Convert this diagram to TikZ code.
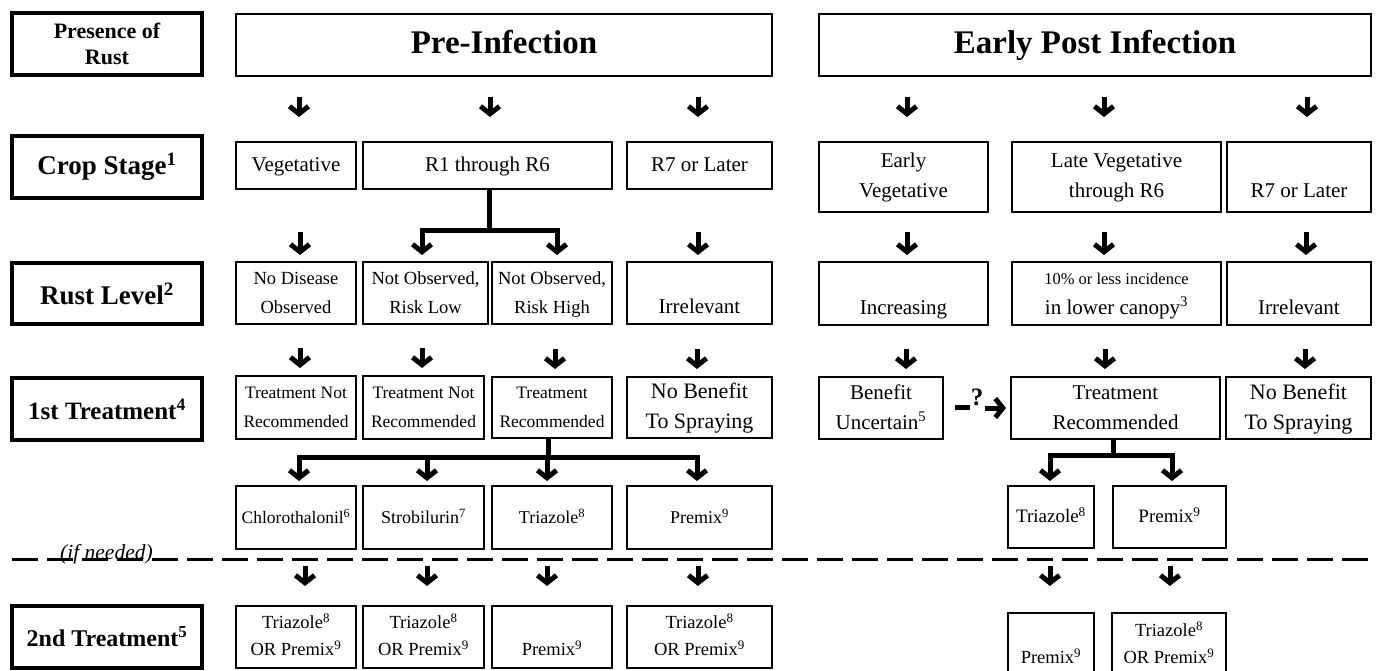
\documentclass[tikz,border=0pt]{standalone}
\usepackage{fontspec}
\setmainfont{Liberation Serif}
\usetikzlibrary{arrows.meta,calc}
\newcommand\fs[2]{\fontsize{#1}{#2}\selectfont}
\newcommand\ssp[1]{\textsuperscript{#1}}
\newcommand\B[7]{\node[#6, minimum width={#4pt-#2pt}, minimum height={#5pt-#3pt}] (#1) at ({(#2+#4)/2},{(#3+#5)/2}) {#7};}
\newcommand\arrto[4]{\draw[arr] ($(#1.north)+(#2,-#3)$) -- ($(#1.north)+(#2,-#4)$);}
\begin{document}
\begin{tikzpicture}[x=1pt,y=-1pt,
 lbl/.style={draw, line width=4.5pt, align=center, inner sep=0pt},
 hdr/.style={draw, line width=2.5pt, font=\bfseries\fs{33}{38}, inner sep=0pt, text height=23pt, text depth=5pt},
 bx/.style={draw, line width=2pt, align=center, inner sep=0pt},
 tip/.tip={Straight Barb[length=7.5pt,width=19pt]},
 arr/.style={line width=5pt, -tip},
 arr2/.style={line width=5pt, tip-tip},
 br/.style={line width=5pt},
]
\useasboundingbox[fill=white] (0,0) rectangle (1377,671);
% label column
\B{pres}{12}{13}{202}{75}{lbl,font=\bfseries\fs{22}{26}}{Presence of\\Rust}
\B{crop}{12}{136}{202}{198}{lbl,font=\bfseries\fs{27}{30}}{Crop Stage\ssp{1}}
\B{rustl}{12}{263}{202}{324}{lbl,font=\bfseries\fs{27}{30}}{Rust Level\ssp{2}}
\B{first}{12}{378}{202}{440}{lbl,font=\bfseries\fs{25}{30}}{1st Treatment\ssp{4}}
\B{second}{12}{606}{202}{668}{lbl,font=\bfseries\fs{24}{30}}{2nd Treatment\ssp{5}}
% headers
\B{pre}{236}{14}{772}{76}{hdr}{Pre-Infection}
\B{post}{819}{14}{1371}{76}{hdr}{Early Post Infection}
% row 1 crop stage
\B{veg}{236}{142}{356}{189}{bx,font=\fs{21}{29}}{\strut Vegetative}
\B{r16}{363}{142}{612}{189}{bx,font=\fs{21}{29}}{\strut R1 through R6}
\B{r7a}{627}{142}{772}{189}{bx,font=\fs{21}{29}}{\strut R7 or Later}
\B{eveg}{819}{142}{988}{212}{bx,font=\fs{21}{30}}{\strut Early\\\strut Vegetative}
\B{lveg}{1012}{142}{1221}{212}{bx,font=\fs{21}{30}}{\strut Late Vegetative\\\strut through R6}
\B{r7b}{1227}{142}{1371}{212}{bx,font=\fs{21}{30}}{\strut\\\strut R7 or Later}
% row 2 rust level
\B{nodis}{236}{262}{356}{324}{bx,font=\fs{18.5}{29}}{\strut No Disease\\\strut Observed}
\B{nolow}{363}{262}{488}{324}{bx,font=\fs{18.5}{29}}{\strut Not Observed,\\\strut Risk Low}
\B{nohigh}{492}{262}{612}{324}{bx,font=\fs{18.5}{29}}{\strut Not Observed,\\\strut Risk High}
\B{irra}{627}{262}{772}{324}{bx,font=\fs{21}{29}}{\strut\\\strut Irrelevant}
\B{incr}{819}{262}{988}{325}{bx,font=\fs{21}{30}}{\strut\\\strut Increasing}
\B{ten}{1012}{262}{1221}{325}{bx,font=\fs{21}{30}}{\strut{\fs{16.5}{30}10\% or less incidence}\\\strut in lower canopy\ssp{3}}
\B{irrb}{1227}{262}{1371}{325}{bx,font=\fs{21}{30}}{\strut\\\strut Irrelevant}
% row 3 first treatment
\B{tna}{236}{376}{356}{439}{bx,font=\fs{17.5}{29}}{\strut Treatment Not\\\strut Recommended}
\B{tnb}{363}{376}{484}{439}{bx,font=\fs{17.5}{29}}{\strut Treatment Not\\\strut Recommended}
\B{tra}{492}{377}{612}{438}{bx,font=\fs{17.5}{29}}{\strut Treatment\\\strut Recommended}
\B{nba}{627}{377}{772}{438}{bx,font=\fs{22}{30}}{\strut No Benefit\\\strut To Spraying}
\B{bu}{819}{377}{943}{439}{bx,font=\fs{21}{30}}{\strut Benefit\\\strut Uncertain\ssp{5}}
\B{trb}{1011}{377}{1220}{439}{bx,font=\fs{21}{30}}{\strut Treatment\\\strut Recommended}
\B{nbb}{1226}{377}{1371}{439}{bx,font=\fs{22}{30}}{\strut No Benefit\\\strut To Spraying}
% row 4 products
\B{chl}{236}{486}{356}{549}{bx,font=\fs{17.5}{29}}{\strut Chlorothalonil\ssp{6}}
\B{str}{363}{486}{484}{549}{bx,font=\fs{18}{29}}{\strut Strobilurin\ssp{7}}
\B{tria}{492}{486}{612}{549}{bx,font=\fs{18}{29}}{\strut Triazole\ssp{8}}
\B{pmxa}{627}{486}{772}{549}{bx,font=\fs{18}{29}}{\strut Premix\ssp{9}}
\B{trib}{1008}{486}{1094}{548}{bx,font=\fs{19}{29}}{\strut Triazole\ssp{8}}
\B{pmxb}{1113}{486}{1226}{548}{bx,font=\fs{19}{29}}{\strut Premix\ssp{9}}
% row 5 second treatment
\B{sa}{236}{606}{356}{668}{bx,font=\fs{18.5}{27}}{\strut Triazole\ssp{8}\\\strut OR Premix\ssp{9}}
\B{sb}{363}{606}{484}{668}{bx,font=\fs{18.5}{27}}{\strut Triazole\ssp{8}\\\strut OR Premix\ssp{9}}
\B{sc}{492}{606}{612}{668}{bx,font=\fs{18.5}{27}}{\strut\\\strut Premix\ssp{9}}
\B{sd}{627}{606}{772}{668}{bx,font=\fs{18.5}{27}}{\strut Triazole\ssp{8}\\\strut OR Premix\ssp{9}}
\B{se}{1008}{613}{1094}{676}{bx,font=\fs{18.5}{27}}{\strut\\\strut Premix\ssp{9}}
\B{sf}{1112}{613}{1226}{676}{bx,font=\fs{18.5}{27}}{\strut Triazole\ssp{8}\\\strut OR Premix\ssp{9}}
% arrows row 1
\arrto{veg}{3}{44}{24}
\arrto{r16}{2.5}{44}{24}
\arrto{r7a}{-1.5}{44}{24}
\arrto{eveg}{3.5}{44}{24}
\arrto{lveg}{-12.5}{44}{24}
\arrto{r7b}{8}{44}{24}
% row 2
\arrto{nodis}{4}{29}{6}
\arrto{irra}{-1.5}{29}{6}
\arrto{incr}{3.5}{29}{6}
\arrto{ten}{-12.5}{29}{6}
\arrto{irrb}{7}{29}{6}
\coordinate (j1) at (489,231);
\draw[br] (r16.south -| j1) -- (j1);
\draw[arr2] ($(nolow.north)+(-3.5,-6)$) |- (j1) -| ($(nohigh.north)+(5,-6)$);
% row 3
\arrto{tna}{4}{27}{7}
\arrto{tnb}{-1.5}{27}{7}
\arrto{tra}{3}{27}{7}
\arrto{nba}{-2.5}{27}{7}
\arrto{bu}{25}{27}{7}
\arrto{trb}{-10.5}{27}{7}
\arrto{nbb}{6.5}{27}{7}
% uncertain link
\draw[br] ($(bu.east)+(11,-1)$) -- ($(bu.east)+(26,-1)$);
\node[font=\bfseries\fs{25}{28}, inner sep=0pt] (q) at (977,397) {?};
\draw[arr, shorten >=4pt] ($(bu.east)+(41,0)$) -- (trb.west);
% row 4 branches
\coordinate (j2) at (548,457);
\draw[br] (tra.south -| j2) -- (j2);
\draw[arr2] ($(chl.north)+(3,-4)$) |- (j2) -| ($(pmxa.north)+(-2.5,-4)$);
\arrto{str}{3.5}{29}{4}
\arrto{tria}{-5}{29}{4}
\coordinate (j3) at (1113,455);
\draw[br] (trb.south -| j3) -- (j3);
\draw[arr2] ($(trib.north)+(-1,-4)$) |- (j3) -| ($(pmxb.north)+(2.5,-4)$);
% dashed separator
\draw[line width=3pt, dash pattern=on 26pt off 9pt] (12,559) -- (1377,559);
\node[anchor=base west, font=\itshape\fs{21.5}{24}, inner sep=0pt] (ifn) at (60,559) {(if needed)};
% row 5
\arrto{sa}{9}{39}{19}
\arrto{sb}{3.5}{39}{19}
\arrto{sc}{-5}{39}{19}
\arrto{sd}{-1.5}{39}{19}
\arrto{se}{-1}{46}{26}
\arrto{sf}{1}{46}{26}
\end{tikzpicture}
\end{document}
